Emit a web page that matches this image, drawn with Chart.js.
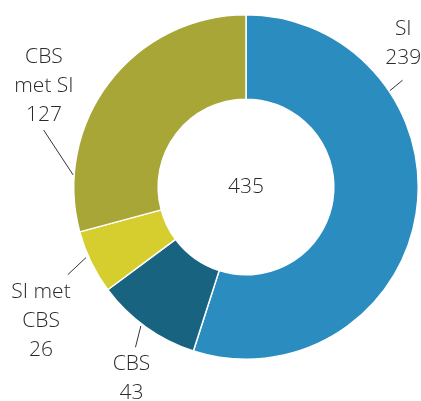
<!DOCTYPE html>
<html><head><meta charset="utf-8">
<script src="https://cdn.jsdelivr.net/npm/chart.js@4/dist/chart.umd.min.js"></script>
<style>html,body{margin:0;padding:0;background:#fff}#wrap{width:421px;height:401px}</style>
</head><body><div id="wrap"><canvas id="c" width="421" height="401"></canvas></div>
<script>
const categories = ['SI', 'CBS', 'SI met CBS', 'CBS met SI'];
const values = [239, 43, 26, 127];
const labelText = [['SI', '239'], ['CBS', '43'], ['SI met', 'CBS', '26'], ['CBS', 'met SI', '127']];
const colors = ['#2a8cbf', '#18637f', '#d5ce2e', '#a8a636'];
const total = values.reduce((a, b) => a + b, 0);

// label placement (angle in deg clockwise from top, radius factors; text offsets in R units)
const placement = [
  {a1: 56.2, r1: 1.005, a2: 55.7, r2: 1.10, tx: 0.913, ty: -0.919},
  {a1: 217.1, r1: 1.012, a2: 214.6, r2: 1.13, tx: -0.665, ty: 1.029},
  {a1: 246.2, r1: 1.015, a2: 243.8, r2: 1.153, tx: -1.19, ty: 0.607},
  {a1: 274, r1: 1.006, a2: 285.7, r2: 1.22, tx: -1.173, ty: -0.757}
];

const labelPlugin = {
  id: 'labels',
  afterDraw(chart) {
    const ctx = chart.ctx;
    const arc = chart.getDatasetMeta(0).data[0];
    const cx = arc.x, cy = arc.y, R = arc.outerRadius;
    ctx.save();
    ctx.fillStyle = '#2a2a2a';
    ctx.font = '300 21px "Open Sans", "Noto Sans", sans-serif';
    ctx.textAlign = 'center';
    ctx.textBaseline = 'middle';
    ctx.fillText(String(total), cx, cy);
    const lh = 29;
    placement.forEach((p, i) => {
      const t1 = p.a1 * Math.PI / 180, t2 = p.a2 * Math.PI / 180;
      ctx.strokeStyle = '#333';
      ctx.lineWidth = 1;
      ctx.beginPath();
      ctx.moveTo(cx + Math.sin(t1) * R * p.r1, cy - Math.cos(t1) * R * p.r1);
      ctx.lineTo(cx + Math.sin(t2) * R * p.r2, cy - Math.cos(t2) * R * p.r2);
      ctx.stroke();
      const lines = labelText[i];
      lines.forEach((s, k) => {
        ctx.fillText(s, cx + p.tx * R, cy + p.ty * R + k * lh);
      });
    });
    ctx.restore();
  }
};

new Chart(document.getElementById('c'), {
  type: 'doughnut',
  data: {
    labels: categories,
    datasets: [{
      data: values,
      backgroundColor: colors,
      borderColor: '#ffffff',
      borderWidth: 1.5
    }]
  },
  options: {
    responsive: false,
    animation: false,
    cutout: '51%',
    layout: {padding: {left: 73, right: 2, top: 14, bottom: 41}},
    plugins: {legend: {display: false}, tooltip: {enabled: false}}
  },
  plugins: [labelPlugin]
});
</script>
</body></html>
